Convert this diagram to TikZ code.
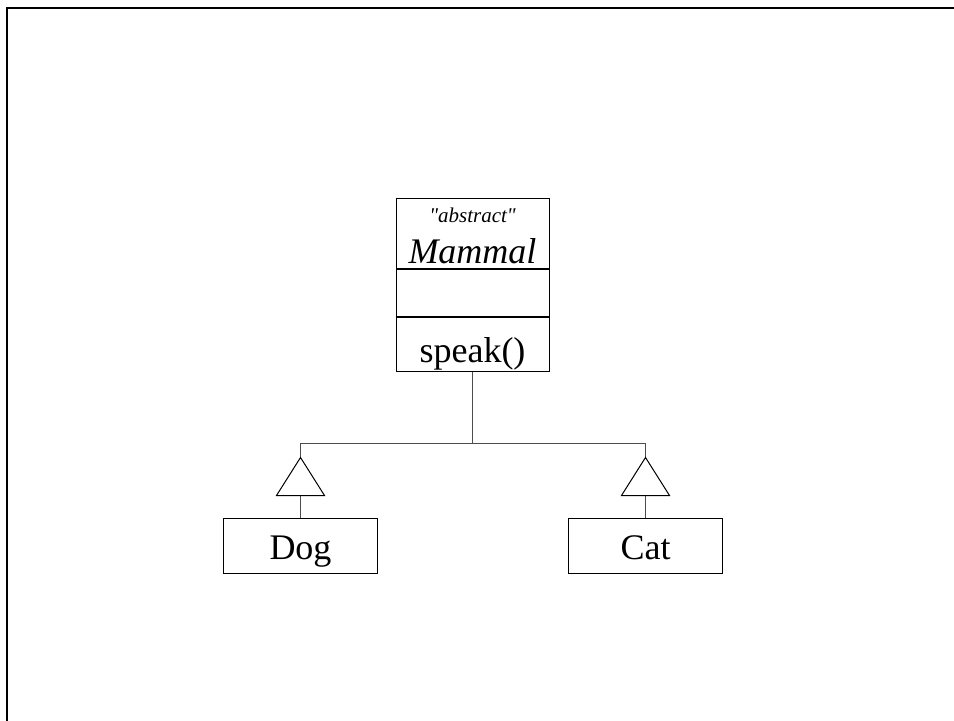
\documentclass[tikz,border=0pt]{standalone}
\usepackage{fontspec}
\setmainfont{Liberation Serif}
\newfontfamily\stereofont{Liberation Serif}
\usepackage{tikz}
\usetikzlibrary{positioning}

\tikzset{
  classbox/.style={draw, line width=0.5pt, inner sep=0pt, minimum width=77pt,
    font=\fontsize{18}{20}\selectfont},
  link/.style={draw=black!70, line width=0.5pt},
  inherit/.style={draw=black, line width=0.5pt, fill=white}
}

\begin{document}
\begin{tikzpicture}
\useasboundingbox (0,0) rectangle (477pt,360pt);
\coordinate (frameleft) at (3.5pt,-5pt);
\coordinate (frameright) at (480pt,356pt);
\draw[line width=1.25pt] (frameleft) |- (frameright);
%----------------------------------
\node[classbox, minimum width=76.5pt, minimum height=35pt, text height=31pt, text depth=1pt,
  label={[anchor=base, label distance=-12.5pt, font=\stereofont\fontsize{10.5}{12}\selectfont\itshape]90:"abstract"}]
  (mammalname) at (236.25pt,243.5pt) {\itshape Mammal};
\node[classbox, minimum width=76.5pt, minimum height=23.5pt, below=0pt of mammalname] (mammalattr) {};
\node[classbox, minimum width=76.5pt, minimum height=27pt, text height=20pt, text depth=2pt,
  below=0pt of mammalattr] (mammalops) {speak()};
\draw[line width=1pt] (mammalops.north west) -- (mammalops.north east);
%----------------------------------
\coordinate[below=36pt of mammalops] (fork);
\coordinate[left=86pt of fork] (dogfork);
\coordinate[right=86.5pt of fork] (catfork);
\coordinate[below=7pt of dogfork] (dogtip);
\coordinate[below=7pt of catfork] (cattip);
\coordinate[below=19pt of dogtip] (dogbase);
\coordinate[below=19pt of cattip] (catbase);
%----------------------------------
\node[classbox, minimum height=27.5pt, text height=16pt, text depth=2.5pt, below=11pt of dogbase] (dog) {Dog};
\node[classbox, minimum height=27.5pt, text height=16pt, text depth=2.5pt, below=11pt of catbase] (cat) {Cat};
%--------------------------------
\path[link] (mammalops.south) -- (fork);
\path[link] (dogtip) -- (dogfork) -- (catfork) -- (cattip);
\path[link] (dog.north) -- (dogbase);
\path[link] (cat.north) -- (catbase);
\path[inherit] (dogtip) -- ++(-12pt,-19pt) -- ++(24pt,0) -- cycle;
\path[inherit] (cattip) -- ++(-12pt,-19pt) -- ++(24pt,0) -- cycle;
\end{tikzpicture}
\end{document}
